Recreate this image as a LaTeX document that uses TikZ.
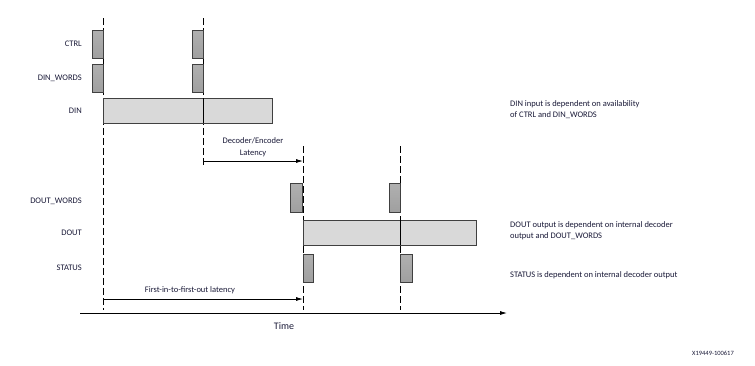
\documentclass[tikz,border=0pt]{standalone}
\usepackage{fontspec}
\setmainfont{Carlito}
\usetikzlibrary{arrows.meta}
\definecolor{txt}{RGB}{25,25,55}
\definecolor{edge}{RGB}{64,64,64}
\definecolor{light}{RGB}{217,217,217}
\begin{document}
\begin{tikzpicture}[x=1pt,y=-1pt,
  every node/.style={font=\fontsize{8.5}{10}\selectfont,text=txt,inner sep=0pt},
  sig/.style={anchor=east},
  note/.style={anchor=west,align=left},
  pulse/.style={draw=edge,line width=0.9pt,top color=gray!62,bottom color=gray!75},
  bar/.style={draw=edge,line width=0.9pt,fill=light},
  guide/.style={draw=black,line width=0.6pt,dash pattern=on 7pt off 3pt},
  arr/.style={line width=0.8pt,-{Latex[length=7pt,width=4pt]}}]
\useasboundingbox (0,0) rectangle (755,365);
% guide lines
\coordinate (g1t) at (103,18); \coordinate (g1b) at (103,310);
\coordinate (g2t) at (203,18); \coordinate (g2b) at (203,165);
\coordinate (g3t) at (303,146); \coordinate (g3b) at (303,310);
\coordinate (g4t) at (400,146); \coordinate (g4b) at (400,310);
\draw[guide] (g1t) -- (g1b);
\draw[guide] (g2t) -- (g2b);
\draw[guide] (g3t) -- (g3b);
\draw[guide] (g4t) -- (g4b);
% signal labels
\node[sig] (lctrl) at (82,44) {CTRL};
\node[sig] (ldw) at (82,78) {DIN\_WORDS};
\node[sig] (ldin) at (82,111) {DIN};
\node[sig] (ldow) at (82,201) {DOUT\_WORDS};
\node[sig] (ldout) at (82,233) {DOUT};
\node[sig] (lstat) at (82,268) {STATUS};
% pulses
\draw[pulse] (92,30) rectangle (103,58);
\draw[pulse] (192,30) rectangle (203,58);
\draw[pulse] (92,64) rectangle (103,92);
\draw[pulse] (192,64) rectangle (203,92);
\draw[bar] (103,98) rectangle (272,123);
\draw[pulse] (290,183) rectangle (302,212);
\draw[pulse] (389,183) rectangle (400,212);
\draw[bar] (303,220) rectangle (476,245);
\draw[pulse] (303,254) rectangle (313,282);
\draw[pulse] (400,254) rectangle (412,282);
% redraw guides over bars
\draw[line width=0.6pt] (203,98) -- (203,123);
\draw[line width=0.6pt] (400,220) -- (400,245);
% latency arrows
\coordinate (a1s) at (203,161); \coordinate (a1e) at (303,161);
\draw[arr] (a1s) -- (a1e);
\node[align=center] (declat) at (253,147) {Decoder/Encoder\\[2pt]Latency};
\coordinate (a2s) at (103,299); \coordinate (a2e) at (303,299);
\draw[arr] (a2s) -- (a2e);
\node (fifo) at (190,290) {First-in-to-first-out latency};
% time axis
\coordinate (t0) at (80,313); \coordinate (t1) at (507,313);
\draw[arr] (t0) -- (t1);
\node[font=\fontsize{10}{12}\selectfont] (time) at (284,326) {Time};
% notes
\node[note] (n1) at (510,110) {DIN input is dependent on availability\\[1pt]of CTRL and DIN\_WORDS};
\node[note] (n2) at (510,231) {DOUT output is dependent on internal decoder\\[1pt]output and DOUT\_WORDS};
\node[note] (n3) at (510,275) {STATUS is dependent on internal decoder output};
\node[anchor=east,font=\fontsize{6.5}{8}\selectfont] (fig) at (734,353) {X19449-100617};
\end{tikzpicture}
\end{document}
